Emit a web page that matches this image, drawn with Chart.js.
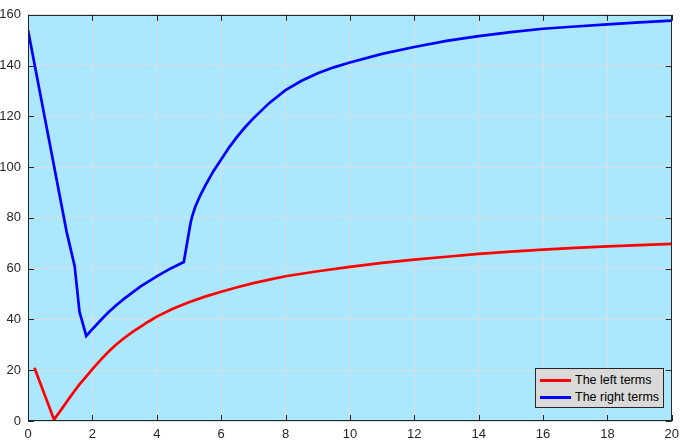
<!DOCTYPE html>
<html>
<head>
<meta charset="utf-8">
<script src="https://cdn.jsdelivr.net/npm/chart.js@4.4.1/dist/chart.umd.min.js"></script>
<style>
  html, body { margin: 0; padding: 0; background: #ffffff; }
  #wrap { position: relative; width: 685px; height: 442px; }
  #legend {
    position: absolute; left: 535px; top: 368px; width: 127px; height: 38px;
    background: #d9d9d9; border: 1px solid #262626;
    font-family: 'Liberation Sans', Arial, sans-serif; font-size: 12.5px; color: #000;
  }
  #legend .row { position: absolute; left: 4px; height: 16px; display: flex; align-items: center; }
  #legend .swatch { width: 31px; height: 3px; margin-right: 4px; }
</style>
</head>
<body>
<div id="wrap">
  <canvas id="grafico"></canvas>
  <div id="legend"></div>
</div>
<script>
// valores
const leftX  = [0.2, 0.81, 0.9, 1.0, 1.15, 1.3, 1.45, 1.6, 1.8, 2, 2.25, 2.5, 2.75, 3, 3.25, 3.5, 3.75, 4, 4.5, 5, 5.5, 6, 6.5, 7, 7.5, 8, 9, 10, 11, 12, 13, 14, 15, 16, 17, 18, 19, 20];
const leftY  = [21, 0.5, 2.2, 3.9, 6.6, 9.3, 11.9, 14.4, 17.4, 20.4, 24, 27.3, 30.2, 32.8, 35.1, 37.2, 39.2, 41.1, 44.2, 46.8, 49, 50.9, 52.7, 54.3, 55.7, 57, 59, 60.7, 62.3, 63.6, 64.7, 65.8, 66.7, 67.5, 68.2, 68.8, 69.3, 69.8];

const rightX = [0, 0.4, 0.8, 1.2, 1.45, 1.6, 1.81, 2, 2.25, 2.5, 2.75, 3, 3.5, 4, 4.42, 4.84, 5.05, 5.1, 5.2, 5.35, 5.5, 5.75, 6, 6.25, 6.5, 6.75, 7, 7.5, 8, 8.5, 9, 9.5, 10, 11, 12, 13, 14, 15, 16, 17, 18, 19, 20];
const rightY = [154, 127.5, 101, 74.5, 61, 43, 33.5, 36.2, 39.6, 42.8, 45.7, 48.3, 53, 57, 60, 62.6, 78, 80.6, 84.5, 88.8, 92.5, 98.2, 103, 107.8, 112, 115.8, 119.2, 125.3, 130.3, 134, 137, 139.3, 141.2, 144.6, 147.3, 149.7, 151.6, 153.2, 154.5, 155.4, 156.2, 157, 157.7];

const xMin = 0, xMax = 20, xStep = 2;
const yMin = 0, yMax = 160, yStep = 20;

const corFundo = '#abe8fe';
const corEixo = '#262626';
const corGrade = '#d6e0e4';

function pares(xs, ys) {
  return xs.map((x, i) => ({ x: x, y: ys[i] }));
}

// fundo + caixa com marcas para dentro (estilo MATLAB)
const caixaPlugin = {
  id: 'caixa',
  beforeDraw(chart) {
    const { ctx, chartArea: a } = chart;
    ctx.save();
    ctx.fillStyle = corFundo;
    ctx.fillRect(a.left, a.top, a.right - a.left, a.bottom - a.top);
    ctx.restore();
  },
  afterDatasetsDraw(chart) {
    const { ctx, chartArea: a, scales } = chart;
    const tam = 6;
    ctx.save();
    ctx.strokeStyle = corEixo;
    ctx.lineWidth = 1;
    ctx.beginPath();
    scales.x.ticks.forEach(t => {
      const px = Math.round(scales.x.getPixelForValue(t.value)) + 0.5;
      ctx.moveTo(px, a.bottom); ctx.lineTo(px, a.bottom - tam);
      ctx.moveTo(px, a.top); ctx.lineTo(px, a.top + tam);
    });
    scales.y.ticks.forEach(t => {
      const py = Math.round(scales.y.getPixelForValue(t.value)) + 0.5;
      ctx.moveTo(a.left, py); ctx.lineTo(a.left + tam, py);
      ctx.moveTo(a.right, py); ctx.lineTo(a.right - tam, py);
    });
    ctx.stroke();
    ctx.strokeRect(Math.round(a.left) + 0.5, Math.round(a.top) + 0.5,
                   Math.round(a.right - a.left) - 1, Math.round(a.bottom - a.top) - 1);
    ctx.restore();
  }
};

const fonte = { family: "'Liberation Sans', Arial, sans-serif", size: 13 };

const ctx = document.getElementById('grafico').getContext('2d');
const grafico = new Chart(ctx, {
  type: 'line',
  data: {
    datasets: [
      {
        label: 'The left terms',
        data: pares(leftX, leftY),
        borderColor: '#ff0000',
        backgroundColor: '#ff0000',
        borderWidth: 2.7,
        pointRadius: 0,
        tension: 0
      },
      {
        label: 'The right terms',
        data: pares(rightX, rightY),
        borderColor: '#0000ff',
        backgroundColor: '#0000ff',
        borderWidth: 2.7,
        pointRadius: 0,
        tension: 0
      }
    ]
  },
  options: {
    responsive: true,
    maintainAspectRatio: false,
    animation: false,
    layout: { padding: { top: 5, right: 7, left: 0, bottom: 0 } },
    plugins: {
      legend: { display: false },
      tooltip: { enabled: false }
    },
    scales: {
      x: {
        type: 'linear',
        min: xMin, max: xMax,
        afterFit(s) { s.height = 21; },
        grid: { color: corGrade, drawTicks: false },
        border: { display: false },
        ticks: { stepSize: xStep, color: corEixo, font: fonte, padding: 6, maxRotation: 0 }
      },
      y: {
        min: yMin, max: yMax,
        afterFit(s) { s.width = 28; },
        grid: { color: corGrade, drawTicks: false },
        border: { display: false },
        ticks: { stepSize: yStep, color: corEixo, font: fonte, padding: 7 }
      }
    }
  },
  plugins: [caixaPlugin]
});

// legenda em HTML a partir dos datasets
const elLegenda = document.getElementById('legend');
grafico.data.datasets.forEach((ds, i) => {
  const linha = document.createElement('div');
  linha.className = 'row';
  linha.style.top = (3 + i * 17) + 'px';
  linha.innerHTML = `<span class="swatch" style="background:${ds.borderColor}"></span><span>${ds.label}</span>`;
  elLegenda.appendChild(linha);
});
</script>
</body>
</html>
